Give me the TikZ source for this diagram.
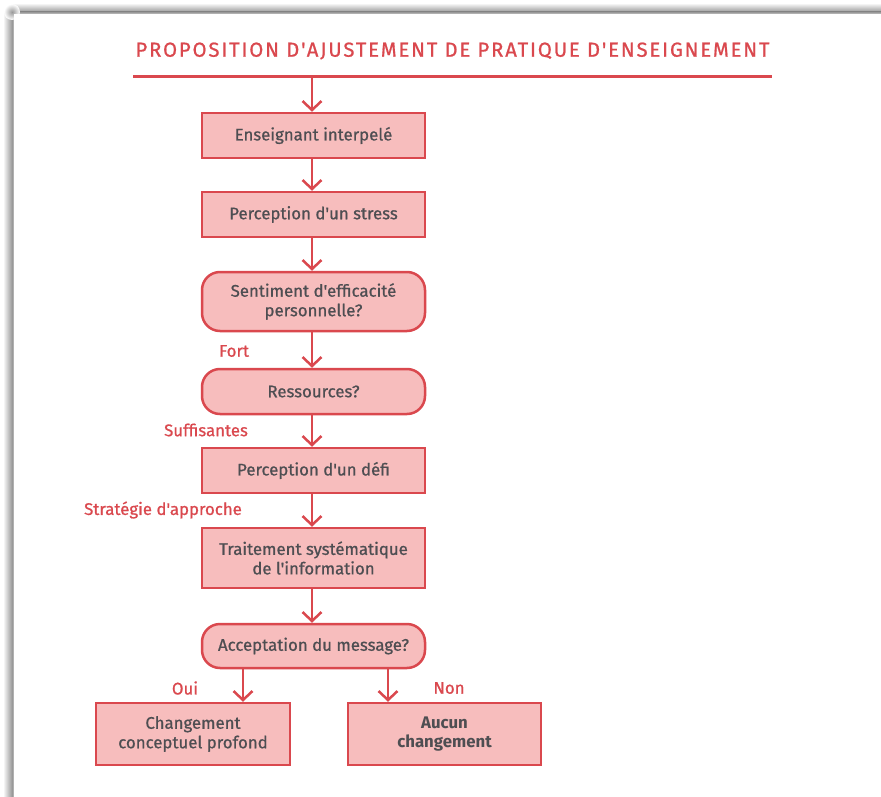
\documentclass[tikz,border=0pt]{standalone}
\usepackage{fontspec}
\setmainfont{Fira Sans}[Ligatures=TeXOff, FakeBold=0.8, BoldFont={Fira Sans Bold}, BoldFeatures={FakeBold=0}]
\usetikzlibrary{arrows.meta,calc}
\definecolor{cred}{RGB}{218,72,78}
\definecolor{cfill}{RGB}{247,189,189}
\definecolor{ctext}{RGB}{78,78,82}
\tikzset{
  boxnode/.style={draw=cred, line width=2.5pt, fill=cfill, text=ctext, minimum width=223pt, minimum height=45pt, align=center, font=\fontsize{16.8}{19.5}\selectfont, inner sep=0pt},
  roundnode/.style={boxnode, rounded corners=18pt},
  lab/.style={text=cred, font=\fontsize{16.8}{19}\selectfont, inner sep=0pt},
  arr/.style={draw=cred, line width=2.5pt, -{Straight Barb[length=9pt,width=19pt,line width=2.5pt]}},
}
\begin{document}
\begin{tikzpicture}[x=1pt,y=-1pt]
\useasboundingbox (0,0) rectangle (881,797);
\fill[white] (0,0) rectangle (881,797);
% page shadow
\shade[left color=white, right color=black!40] (3,12) rectangle (12,797);
\shade[left color=black!40, right color=black!22] (12,12) rectangle (14,797);
\shade[top color=white, bottom color=black!40] (12,3) rectangle (881,12);
\shade[top color=black!40, bottom color=black!22] (12,12) rectangle (881,14);
\shade[inner color=black!40, outer color=white] (12,12) circle (8);
\fill[white] (14,14) rectangle (881,797);
% title
\node[text=cred, inner sep=0pt, font=\fontsize{20.3}{22}\selectfont\addfontfeatures{LetterSpace=9}] (title) at (452.5,51) {PROPOSITION D'AJUSTEMENT DE PRATIQUE D'ENSEIGNEMENT};
\draw[cred, line width=3pt] (133,77) coordinate (ls) -- (772,77) coordinate (le);
\coordinate (t) at (312,77);
% nodes
\node[boxnode] (b1) at (313.5,135.5) {Enseignant interpelé};
\node[boxnode] (b2) at (313.5,214.5) {Perception d'un stress};
\node[roundnode, minimum height=59pt] (b3) at (313.5,301.5) {Sentiment d'efficacité\\personnelle?};
\node[roundnode] (b4) at (313.5,391.5) {Ressources?};
\node[boxnode] (b5) at (313.5,470.5) {Perception d'un défi};
\node[boxnode, minimum height=60pt] (b6) at (313.5,558) {Traitement systématique\\de l'information};
\node[roundnode, minimum height=44pt] (b7) at (313.5,646) {Acceptation du message?};
\node[boxnode, minimum width=194pt, minimum height=62pt] (b8) at (193,734) {Changement\\conceptuel profond};
\node[boxnode, minimum width=193pt, minimum height=62pt, font=\fontsize{16.8}{19.5}\selectfont\bfseries] (b9) at (444.5,734) {Aucun\\changement};
% labels
\node[lab] (lfort) at (234,351) {Fort};
\node[lab] (lsuff) at (206,430) {Suffisantes};
\node[lab] (lstrat) at (163,510) {Stratégie d'approche};
\node[lab] (loui) at (185,688) {Oui};
\node[lab] (lnon) at (449,688) {Non};
% connectors
\draw[arr] (t) -- (b1.north -| t);
\draw[arr] (b1.south -| t) -- (b2.north -| t);
\draw[arr] (b2.south -| t) -- (b3.north -| t);
\draw[arr] (b3.south -| t) -- (b4.north -| t);
\draw[arr] (b4.south -| t) -- (b5.north -| t);
\draw[arr] (b5.south -| t) -- (b6.north -| t);
\draw[arr] (b6.south -| t) -- (b7.north -| t);
\coordinate (xo) at (243,0);
\coordinate (xn) at (388,0);
\draw[arr] (b7.south -| xo) -- (b8.north -| xo);
\draw[arr] (b7.south -| xn) -- (b9.north -| xn);
\end{tikzpicture}
\end{document}
